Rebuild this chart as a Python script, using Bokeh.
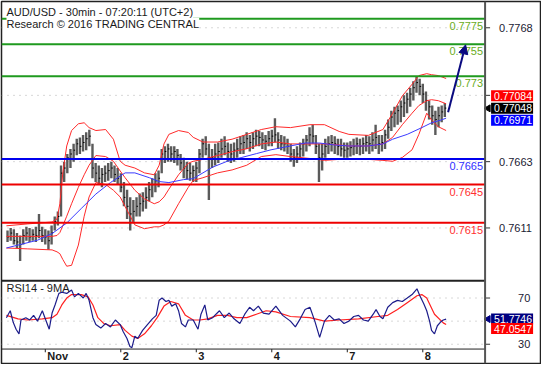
import math
from bokeh.plotting import figure
from bokeh.models import (Range1d, Span, Label, Arrow, NormalHead, ColumnDataSource)
from bokeh.core.properties import value
from bokeh.embed import file_html
from bokeh.resources import INLINE

FONT = "Liberation Sans"

# ---------------- data ----------------
# hourly bars, starting Oct 31 12:00 (x axis = trading days, Nov 1 = 0)
bar_count = 140
bar_high = [0.7609, 0.7611, 0.7610, 0.7607, 0.7605, 0.7610, 0.7612, 0.7611, 0.7610, 0.7612,
            0.7622, 0.7612, 0.7610, 0.7609, 0.7613, 0.7620, 0.7624, 0.7660, 0.7663, 0.7669,
            0.7673, 0.7677, 0.7681, 0.7682, 0.7684, 0.7686, 0.7688, 0.7677, 0.7662, 0.7660,
            0.7658, 0.7660, 0.7662, 0.7663, 0.7660, 0.7658, 0.7654, 0.7647, 0.7641, 0.7635,
            0.7633, 0.7635, 0.7638, 0.7639, 0.7643, 0.7647, 0.7650, 0.7654, 0.7656, 0.7673,
            0.7675, 0.7677, 0.7675, 0.7675, 0.7673, 0.7669, 0.7666, 0.7663, 0.7662, 0.7660,
            0.7663, 0.7673, 0.7681, 0.7683, 0.7677, 0.7673, 0.7677, 0.7678, 0.7681, 0.7683,
            0.7678, 0.7677, 0.7678, 0.7681, 0.7683, 0.7684, 0.7686, 0.7684, 0.7686, 0.7688,
            0.7687, 0.7686, 0.7684, 0.7687, 0.7688, 0.7697, 0.7686, 0.7684, 0.7683, 0.7681,
            0.7677, 0.7673, 0.7675, 0.7678, 0.7681, 0.7684, 0.7690, 0.7692, 0.7684, 0.7677,
            0.7677, 0.7681, 0.7683, 0.7684, 0.7683, 0.7681, 0.7681, 0.7678, 0.7678, 0.7679,
            0.7681, 0.7682, 0.7681, 0.7682, 0.7684, 0.7683, 0.7686, 0.7692, 0.7684, 0.7684,
            0.7688, 0.7696, 0.7703, 0.7706, 0.7707, 0.7711, 0.7715, 0.7717, 0.7721, 0.7726,
            0.7730, 0.7728, 0.7724, 0.7718, 0.7711, 0.7707, 0.7703, 0.7706, 0.7707, 0.7709]
bar_low = [0.7600, 0.7601, 0.7598, 0.7595, 0.7585, 0.7598, 0.7601, 0.7600, 0.7601, 0.7600,
           0.7603, 0.7600, 0.7598, 0.7594, 0.7598, 0.7609, 0.7613, 0.7620, 0.7647, 0.7654,
           0.7658, 0.7663, 0.7668, 0.7669, 0.7671, 0.7672, 0.7675, 0.7650, 0.7647, 0.7645,
           0.7643, 0.7647, 0.7648, 0.7650, 0.7647, 0.7645, 0.7639, 0.7628, 0.7618, 0.7609,
           0.7615, 0.7620, 0.7620, 0.7624, 0.7626, 0.7632, 0.7635, 0.7639, 0.7643, 0.7654,
           0.7662, 0.7663, 0.7663, 0.7662, 0.7660, 0.7656, 0.7650, 0.7649, 0.7648, 0.7647,
           0.7647, 0.7654, 0.7666, 0.7668, 0.7633, 0.7658, 0.7660, 0.7662, 0.7666, 0.7668,
           0.7663, 0.7662, 0.7663, 0.7666, 0.7669, 0.7669, 0.7673, 0.7671, 0.7673, 0.7675,
           0.7675, 0.7673, 0.7672, 0.7675, 0.7675, 0.7678, 0.7673, 0.7672, 0.7671, 0.7669,
           0.7663, 0.7659, 0.7662, 0.7665, 0.7667, 0.7671, 0.7675, 0.7677, 0.7669, 0.7647,
           0.7656, 0.7666, 0.7669, 0.7671, 0.7669, 0.7668, 0.7667, 0.7666, 0.7666, 0.7667,
           0.7668, 0.7669, 0.7668, 0.7669, 0.7671, 0.7669, 0.7671, 0.7673, 0.7669, 0.7671,
           0.7673, 0.7681, 0.7687, 0.7690, 0.7692, 0.7694, 0.7698, 0.7701, 0.7706, 0.7711,
           0.7717, 0.7715, 0.7709, 0.7703, 0.7696, 0.7692, 0.7684, 0.7690, 0.7694, 0.7698]
bar_close = [0.7604, 0.7607, 0.7601, 0.7600, 0.7598, 0.7605, 0.7607, 0.7604, 0.7606, 0.7605,
             0.7609, 0.7605, 0.7604, 0.7601, 0.7607, 0.7616, 0.7620, 0.7654, 0.7658, 0.7666,
             0.7669, 0.7672, 0.7677, 0.7675, 0.7678, 0.7681, 0.7683, 0.7658, 0.7654, 0.7650,
             0.7653, 0.7654, 0.7656, 0.7658, 0.7653, 0.7650, 0.7643, 0.7635, 0.7628, 0.7622,
             0.7624, 0.7628, 0.7630, 0.7632, 0.7635, 0.7641, 0.7645, 0.7648, 0.7650, 0.7669,
             0.7671, 0.7673, 0.7669, 0.7671, 0.7668, 0.7662, 0.7658, 0.7656, 0.7654, 0.7656,
             0.7658, 0.7669, 0.7677, 0.7673, 0.7666, 0.7666, 0.7669, 0.7671, 0.7673, 0.7675,
             0.7671, 0.7669, 0.7672, 0.7673, 0.7677, 0.7678, 0.7681, 0.7678, 0.7681, 0.7683,
             0.7682, 0.7680, 0.7679, 0.7681, 0.7683, 0.7684, 0.7680, 0.7677, 0.7677, 0.7675,
             0.7669, 0.7666, 0.7669, 0.7673, 0.7677, 0.7680, 0.7684, 0.7683, 0.7675, 0.7666,
             0.7669, 0.7675, 0.7677, 0.7678, 0.7677, 0.7675, 0.7673, 0.7672, 0.7673, 0.7674,
             0.7675, 0.7677, 0.7675, 0.7677, 0.7678, 0.7677, 0.7680, 0.7682, 0.7677, 0.7678,
             0.7684, 0.7690, 0.7698, 0.7701, 0.7703, 0.7706, 0.7709, 0.7712, 0.7716, 0.7721,
             0.7725, 0.7722, 0.7716, 0.7711, 0.7706, 0.7699, 0.7696, 0.7699, 0.7702, 0.7705]

# Bollinger bands (upper / middle / lower), x in trading days
band_t = [-0.515, -0.232, 0.090, 0.155, 0.193, 0.232, 0.284, 0.348, 0.438, 0.515,
          0.580, 0.670, 0.799, 0.902, 0.992, 1.057, 1.186, 1.314, 1.443, 1.508,
          1.572, 1.637, 1.765, 1.894, 1.959, 2.088, 2.281, 2.474, 2.668, 2.861,
          3.054, 3.247, 3.505, 3.698, 3.892, 4.021, 4.278, 4.472, 4.601, 4.729,
          4.858, 4.948, 5.052, 5.116, 5.206, 5.309]
band_upper = [0.76127, 0.76142, 0.76157, 0.76180, 0.76300, 0.76542, 0.76753, 0.76874, 0.76927, 0.76935,
              0.76897, 0.76874, 0.76882, 0.76806, 0.76633, 0.76602, 0.76580, 0.76542, 0.76527, 0.76602,
              0.76769, 0.76844, 0.76874, 0.76859, 0.76821, 0.76784, 0.76784, 0.76806, 0.76844, 0.76882,
              0.76904, 0.76897, 0.76920, 0.76920, 0.76867, 0.76844, 0.76836, 0.76882, 0.77010, 0.77146,
              0.77237, 0.77305, 0.77320, 0.77312, 0.77305, 0.77282]
band_mid = [0.76044, 0.76044, 0.76044, 0.76051, 0.76074, 0.76127, 0.76202, 0.76300, 0.76429, 0.76527,
            0.76602, 0.76678, 0.76670, 0.76633, 0.76557, 0.76504, 0.76406, 0.76338, 0.76300, 0.76315,
            0.76353, 0.76414, 0.76527, 0.76618, 0.76633, 0.76648, 0.76678, 0.76708, 0.76731, 0.76769,
            0.76784, 0.76769, 0.76769, 0.76769, 0.76761, 0.76753, 0.76753, 0.76769, 0.76821, 0.76920,
            0.77010, 0.77070, 0.77108, 0.77116, 0.77108, 0.77084]
band_lower = [0.75953, 0.75946, 0.75938, 0.75923, 0.75908, 0.75863, 0.75810, 0.75817, 0.75976, 0.76202,
              0.76353, 0.76466, 0.76451, 0.76406, 0.76353, 0.76278, 0.76134, 0.76104, 0.76119, 0.76119,
              0.76134, 0.76164, 0.76300, 0.76429, 0.76482, 0.76504, 0.76542, 0.76565, 0.76602, 0.76670,
              0.76685, 0.76670, 0.76655, 0.76640, 0.76648, 0.76648, 0.76648, 0.76640, 0.76633, 0.76663,
              0.76723, 0.76844, 0.77010, 0.76957, 0.76904, 0.76874]

# 50-period moving average (blue)
ma_t = [-0.515, -0.103, 0.090, 0.284, 0.477, 0.670, 0.863, 1.057, 1.186, 1.379,
        1.508, 1.637, 1.830, 1.959, 2.088, 2.216, 2.410, 2.603, 2.796, 2.990,
        3.247, 3.441, 3.634, 3.827, 4.021, 4.278, 4.472, 4.601, 4.794, 4.987,
        5.116, 5.245, 5.309]
ma_v = [0.75953, 0.76014, 0.76066, 0.76149, 0.76263, 0.76376, 0.76466, 0.76542, 0.76542, 0.76504,
        0.76474, 0.76466, 0.76489, 0.76497, 0.76542, 0.76587, 0.76633, 0.76663, 0.76693, 0.76723,
        0.76753, 0.76776, 0.76776, 0.76761, 0.76753, 0.76753, 0.76769, 0.76806, 0.76844, 0.76897,
        0.76935, 0.76957, 0.76971]

# RSI 14 and its 9-period MA
rsi_t = [-0.515, -0.464, -0.425, -0.387, -0.348, -0.322, -0.258, -0.206, -0.155, -0.103,
         -0.039, 0.000, 0.052, 0.090, 0.129, 0.180, 0.219, 0.284, 0.348, 0.387,
         0.438, 0.503, 0.541, 0.580, 0.631, 0.670, 0.735, 0.799, 0.863, 0.928,
         0.992, 1.031, 1.082, 1.121, 1.147, 1.186, 1.224, 1.289, 1.353, 1.418,
         1.469, 1.508, 1.546, 1.598, 1.637, 1.675, 1.727, 1.765, 1.804, 1.856,
         1.894, 1.959, 2.023, 2.062, 2.113, 2.152, 2.216, 2.307, 2.371, 2.436,
         2.500, 2.577, 2.642, 2.706, 2.758, 2.822, 2.887, 2.964, 3.054, 3.144,
         3.247, 3.312, 3.376, 3.441, 3.505, 3.570, 3.634, 3.698, 3.763, 3.827,
         3.892, 3.956, 4.021, 4.085, 4.149, 4.214, 4.278, 4.343, 4.381, 4.433,
         4.472, 4.536, 4.601, 4.665, 4.729, 4.794, 4.858, 4.923, 4.961, 5.013,
         5.052, 5.090, 5.116, 5.155, 5.193, 5.232, 5.271, 5.309]
rsi_v = [53, 59, 49, 43, 39, 51, 53, 51, 55, 50,
         59, 52, 43, 57, 64, 74, 75, 74, 77, 71,
         74, 70, 74, 68, 53, 47, 44, 48, 45, 51,
         47, 41, 35, 28, 27, 37, 35, 42, 47, 52,
         55, 68, 70, 67, 68, 63, 65, 59, 48, 45,
         51, 51, 43, 56, 64, 51, 53, 59, 53, 57,
         52, 48, 56, 62, 59, 63, 57, 56, 63, 55,
         50, 45, 52, 60, 62, 50, 36, 50, 55, 51,
         52, 48, 50, 54, 55, 51, 50, 56, 60, 54,
         52, 62, 66, 68, 67, 70, 73, 78, 72, 65,
         59, 50, 42, 39, 46, 49, 51, 51.7746]
rsima_t = [-0.515, -0.361, -0.232, -0.039, 0.090, 0.155, 0.219, 0.284, 0.348, 0.477,
           0.567, 0.631, 0.696, 0.773, 0.863, 0.992, 1.057, 1.147, 1.224, 1.314,
           1.405, 1.482, 1.572, 1.662, 1.765, 1.856, 1.959, 2.049, 2.152, 2.281,
           2.410, 2.539, 2.668, 2.796, 2.925, 3.054, 3.247, 3.505, 3.698, 3.892,
           4.149, 4.407, 4.536, 4.665, 4.794, 4.923, 4.987, 5.052, 5.155, 5.271,
           5.309]
rsima_v = [55, 52, 51, 52, 53, 56, 64, 70, 73, 73,
           71, 64, 53, 48, 46, 47, 42, 37, 35, 39,
           46, 53, 63, 67, 65, 55, 51, 51, 52, 55,
           55, 53, 53, 56, 59, 58, 54, 53, 50, 51,
           52, 54, 55, 60, 66, 72, 73, 70, 56, 48.5,
           47.0547]

# key levels from the analysis
level_vals = [0.7775, 0.7755, 0.773, 0.7665, 0.7645, 0.7615]
level_text = ["0.7775", "0.7755", "0.773", "0.7665", "0.7645", "0.7615"]
level_kind = ["res", "res", "res", "pivot", "sup", "sup"]

# forecast arrow (time in days, price)
arrow_from = (5.335, 0.77018)
arrow_to = (5.567, 0.77546)

price_ticks = [0.7611, 0.7663, 0.7715, 0.7768]
rsi_ticks = [30, 70]
rsi_grid = [30, 50, 70]
day_ticks = [0, 1, 2, 3, 4, 5]
day_labels = ["Nov", "2", "3", "4", "7", "8"]

last_mid, last_close, last_ma = 0.77084, 0.77048, 0.76971
last_rsi, last_rsima = 51.7746, 47.0547

# ---------------- layout constants ----------------
FW, FH = 539, 362
X0, X1 = -0.58, 6.559          # full frame (incl. right price scale area)
AX = 5.825                      # position of the price scale
PXD = (X1 - X0) / FW            # days per pixel
P_LO, P_HI = 0.750471, 0.77886  # price range of whole frame
PPP = (P_HI - P_LO) / FH        # price per pixel
SEP_P = 0.75696                 # price at the panel separator
R_LO, R_HI = 13.33, 326.67      # RSI range of whole frame
RPP = (R_HI - R_LO) / FH        # RSI units per pixel
R_AXIS = 25.83                  # RSI value at the time axis line

p = figure(frame_width=FW, frame_height=FH,
           x_range=Range1d(X0, X1), y_range=Range1d(P_LO, P_HI),
           output_backend="svg", toolbar_location=None,
           x_axis_location=None, y_axis_location=None,
           min_border_left=1, min_border_right=1, min_border_top=1, min_border_bottom=1,
           background_fill_color="white", border_fill_color="white",
           outline_line_color="#222222", outline_line_width=1.5)
p.extra_y_ranges = {"rsi": Range1d(R_LO, R_HI)}
p.xgrid.visible = False
p.ygrid.visible = False

DOT = dict(line_color="#b0b0b0", line_width=1, line_dash="1 5")
# dotted price grid
p.segment(x0=[X0] * 4, x1=[AX] * 4, y0=price_ticks, y1=price_ticks, **DOT)
# dotted RSI grid
p.segment(x0=[X0] * 3, x1=[AX] * 3, y0=rsi_grid, y1=rsi_grid, y_range_name="rsi", **DOT)

# price bars
bar_t = [-0.5 + h / 24.0 for h in range(bar_count)]
src = ColumnDataSource(dict(t=bar_t, hi=bar_high, lo=bar_low, cl=bar_close,
                            t2=[t + 1.5 * PXD for t in bar_t]))
p.segment(x0="t", y0="lo", x1="t", y1="hi", source=src, line_color="#5a5a5a", line_width=2.4)
p.segment(x0="t", y0="cl", x1="t2", y1="cl", source=src, line_color="black", line_width=1)

p.line(band_t, band_upper, line_color="#ff2a2a", line_width=1)
p.line(band_t, band_mid, line_color="#ff2a2a", line_width=1)
p.line(band_t, band_lower, line_color="#ff2a2a", line_width=1)
p.line(ma_t, ma_v, line_color="#3b3bff", line_width=1)

# key levels
line_col = {"res": "#1f9a1f", "pivot": "#0000ee", "sup": "#ee0000"}
text_col = {"res": "#6aac22", "pivot": "#3030ff", "sup": "#ff3030"}
n = len(level_vals)
p.segment(x0=[X0] * n, x1=[AX] * n, y0=level_vals, y1=level_vals,
          line_color=[line_col[k] for k in level_kind], line_width=2)
for v, t, k in zip(level_vals, level_text, level_kind):
    p.add_layout(Label(x=AX, y=v, x_offset=-2, y_offset=-3, text=t,
                       text_align="right", text_baseline="top", text_color=text_col[k],
                       text_font=FONT, text_font_size="11px"))

p.add_layout(Arrow(x_start=arrow_from[0], y_start=arrow_from[1],
                   x_end=arrow_to[0], y_end=arrow_to[1],
                   line_color="#0a0a80", line_width=2,
                   end=NormalHead(size=9, fill_color="#0a0a80", line_color="#0a0a80")))

# RSI lines
p.line(rsima_t, rsima_v, line_color="#ff2020", line_width=1.2, y_range_name="rsi")
p.line(rsi_t, rsi_v, line_color="#1c1c8a", line_width=1.2, y_range_name="rsi")

# panel separator and time axis
p.segment(x0=[X0], x1=[AX], y0=[SEP_P], y1=[SEP_P], line_color="#222222", line_width=2)
p.segment(x0=[X0], x1=[AX], y0=[R_AXIS], y1=[R_AXIS], line_color="#222222", line_width=1,
          y_range_name="rsi")
nd = len(day_ticks)
p.segment(x0=day_ticks, x1=day_ticks, y0=[R_AXIS] * nd, y1=[R_AXIS - 2.8] * nd,
          line_color="#222222", line_width=1, y_range_name="rsi")
p.text(x=day_ticks, y=[20.0] * nd, text=day_labels, x_offset=2, y_range_name="rsi",
       text_baseline="middle", text_font=value(FONT), text_font_size="11px",
       text_font_style="bold", text_color="#1a1a1a")

# price scale (right)
p.add_layout(Span(location=AX, dimension="height", line_color="#555555", line_width=2))
p.ray(x=[AX] * 4, y=price_ticks, length=5, length_units="screen", angle=0,
      line_color="#333333", line_width=1)
p.text(x=[AX] * 4, y=price_ticks, text=[f"{v:.4f}" for v in price_ticks], x_offset=14,
       text_baseline="middle", text_font=value(FONT), text_font_size="11px",
       text_color="#1a1a33")
p.ray(x=[AX] * 2, y=rsi_ticks, length=5, length_units="screen", angle=0,
      line_color="#333333", line_width=1, y_range_name="rsi")
p.text(x=[AX] * 2, y=rsi_ticks, text=[str(v) for v in rsi_ticks], x_offset=33,
       text_baseline="middle", text_font=value(FONT), text_font_size="11px",
       text_color="#1a1a33", y_range_name="rsi")

# titles
p.add_layout(Label(x=X0, y=0.77712, x_offset=5,
                   text="Research \u00a9 2016 TRADING CENTRAL", text_baseline="middle",
                   text_color="#1a1a1a", text_font=FONT, text_font_size="11px",
                   background_fill_color="white"))
p.add_layout(Label(x=X0, y=0.77803, x_offset=5,
                   text="AUD/USD - 30min - 07:20:11 (UTC+2)", text_baseline="middle",
                   text_color="#1a1a1a", text_font=FONT, text_font_size="11px",
                   background_fill_color="white"))
p.add_layout(Label(x=X0, y=78.3, x_offset=5, y_range_name="rsi",
                   text="RSI14 - 9MA", text_baseline="middle", text_color="#1a1a1a",
                   text_font=FONT, text_font_size="11px"))

# last-value boxes on the price scale (box 42px wide, 11px high, starting 6px right of scale)
BOX_W, BOX_H, BOX_X = 42, 11, 6
box_cx = AX + (BOX_X + BOX_W / 2) * PXD
price_boxes = [(last_mid, 8, "#ff0000"), (last_close, 0, "#000000"), (last_ma, -2, "#0000ff")]
py = [v + off * PPP for v, off, _ in price_boxes]
p.rect(x=[box_cx] * 3, y=py, width=BOX_W, height=BOX_H, width_units="screen",
       height_units="screen", fill_color=[c for _, _, c in price_boxes], line_color=None)
p.scatter(x=[AX + 3 * PXD], y=[last_close], marker="triangle", angle=math.pi / 2,
          size=7, fill_color="black", line_color="black")
p.text(x=[AX] * 3, y=py, text=[f"{v:.5f}" for v, _, _ in price_boxes], x_offset=BOX_X + 3,
       text_baseline="middle", text_color="white", text_font=value(FONT),
       text_font_size="10.5px")

rsi_boxes = [(last_rsi, 0, "#000080"), (last_rsima, -4, "#ff0000")]
ry = [v + off * RPP for v, off, _ in rsi_boxes]
p.rect(x=[box_cx] * 2, y=ry, width=BOX_W, height=BOX_H, width_units="screen",
       height_units="screen", fill_color=[c for _, _, c in rsi_boxes], line_color=None,
       y_range_name="rsi")
p.scatter(x=[AX + 3 * PXD], y=[last_rsi], marker="triangle", angle=math.pi / 2,
          size=7, fill_color="#000080", line_color="#000080", y_range_name="rsi")
p.text(x=[AX] * 2, y=ry, text=[f"{v:.4f}" for v, _, _ in rsi_boxes], x_offset=BOX_X + 3,
       text_baseline="middle", text_color="white", text_font=value(FONT),
       text_font_size="10.5px", y_range_name="rsi")

open("out.html", "w").write(file_html(p, INLINE))
